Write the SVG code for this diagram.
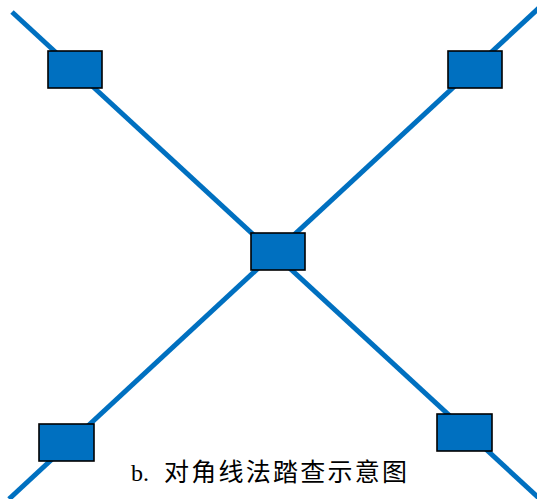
<svg xmlns="http://www.w3.org/2000/svg" width="537" height="499" viewBox="0 0 537 499">
<style>
.ln{stroke:#0070C0;stroke-width:5;fill:none}
.bx{fill:#0070C0;stroke:#000;stroke-width:1.6}
.lb{font-family:"Liberation Serif","Noto Sans CJK SC",serif;font-size:24px;fill:#000}
.cj{font-family:"Noto Sans CJK SC",sans-serif;font-size:25px;fill:#000}
</style>
<rect width="537" height="499" fill="#fff"/>
<g id="connectors">
<line class="ln" x1="12" y1="12" x2="541" y2="500"/>
<line class="ln" x1="540" y1="7" x2="9" y2="499"/>
</g>
<g id="node-tl"><rect class="bx" x="48" y="51" width="54" height="37"/></g>
<g id="node-tr"><rect class="bx" x="448" y="51" width="54" height="37"/></g>
<g id="node-c"><rect class="bx" x="251" y="233" width="54" height="37"/></g>
<g id="node-bl"><rect class="bx" x="39" y="424" width="55" height="37"/></g>
<g id="node-br"><rect class="bx" x="437" y="414" width="55" height="37"/></g>
<g id="caption">
<text class="lb" x="131" y="481">b.</text>
<text class="cj" x="164" y="481" textLength="243" lengthAdjust="spacing">对角线法踏查示意图</text>
</g>
</svg>
